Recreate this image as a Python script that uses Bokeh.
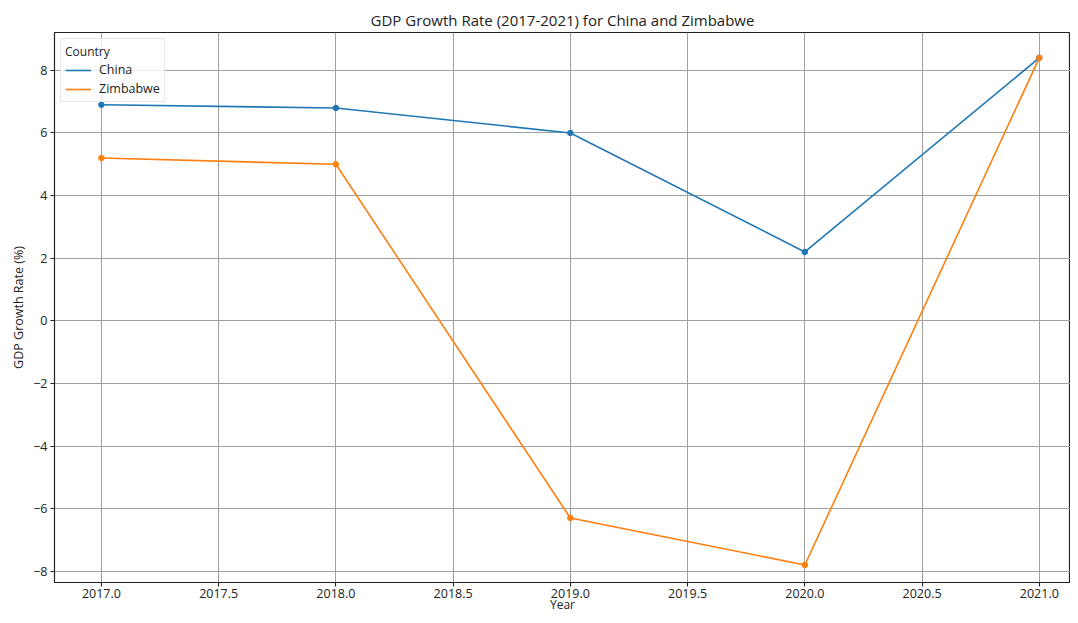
from bokeh.plotting import figure
from bokeh.models import ColumnDataSource, Range1d, FixedTicker, Legend, LegendItem
from bokeh.embed import file_html
from bokeh.resources import INLINE

years = [2017, 2018, 2019, 2020, 2021]
china = [6.9, 6.8, 6.0, 2.2, 8.4]
zimbabwe = [5.2, 5.0, -6.3, -7.8, 8.4]
x_ticks = [2017.0, 2017.5, 2018.0, 2018.5, 2019.0, 2019.5, 2020.0, 2020.5, 2021.0]
y_ticks = [-8, -6, -4, -2, 0, 2, 4, 6, 8]

FONT = "Open Sans"
TXT = "#222222"

p = figure(width=1070, height=615, output_backend="svg", toolbar_location=None,
           title="GDP Growth Rate (2017-2021) for China and Zimbabwe",
           x_range=Range1d(2016.8, 2021.133), y_range=Range1d(-8.36, 9.21),
           min_border_left=54, min_border_right=0, min_border_top=32, min_border_bottom=30)

p.title.align = "center"
p.title.text_font = FONT
p.title.text_font_size = "15px"
p.title.text_font_style = "normal"
p.title.text_color = TXT
p.title.standoff = 6

p.outline_line_color = "#222222"
p.outline_line_width = 1.2

for ax in (p.xaxis[0], p.yaxis[0]):
    ax.major_label_text_font = FONT
    ax.major_label_text_font_size = "12.5px"
    ax.major_label_text_color = TXT
    ax.axis_label_text_font = FONT
    ax.axis_label_text_font_size = "12.5px"
    ax.axis_label_text_font_style = "normal"
    ax.axis_label_text_color = TXT
    ax.axis_line_color = "#222222"
    ax.major_tick_line_color = "#222222"
    ax.major_tick_out = 4
    ax.major_tick_in = 0
    ax.minor_tick_line_color = None
    ax.major_label_standoff = 3
    ax.axis_label_standoff = 3

p.xaxis[0].ticker = FixedTicker(ticks=x_ticks)
p.xaxis[0].major_label_overrides = {t: f"{t:.1f}" for t in x_ticks}
p.xaxis[0].axis_label = "Year"
p.xaxis[0].axis_label_text_font_size = "12px"
p.xaxis[0].axis_label_standoff = -5
p.xaxis[0].major_label_standoff = 2
p.yaxis[0].ticker = FixedTicker(ticks=y_ticks)
p.yaxis[0].axis_label = "GDP Growth Rate (%)"

p.xgrid.grid_line_color = "#a0a0a0"
p.ygrid.grid_line_color = "#a0a0a0"
p.xgrid.grid_line_width = 1
p.ygrid.grid_line_width = 1

src = ColumnDataSource(dict(year=years, china=china, zimbabwe=zimbabwe))

c_line = p.line("year", "china", source=src, line_color="#1f77b4", line_width=1.6)
c_pts = p.scatter("year", "china", source=src, size=5.5, fill_color="#1f77b4", line_color="#1f77b4")
z_line = p.line("year", "zimbabwe", source=src, line_color="#ff7f0e", line_width=1.6)
z_pts = p.scatter("year", "zimbabwe", source=src, size=5.5, fill_color="#ff7f0e", line_color="#ff7f0e")

legend = Legend(items=[LegendItem(label="China", renderers=[c_line]),
                       LegendItem(label="Zimbabwe", renderers=[z_line])],
                location="top_left", title="Country")
legend.title_text_font = FONT
legend.title_text_font_size = "12px"
legend.title_text_font_style = "normal"
legend.title_text_color = TXT
legend.label_text_font = FONT
legend.label_text_font_size = "12.5px"
legend.label_text_color = TXT
legend.border_line_color = "#d0d0d0"
legend.background_fill_alpha = 0.8
legend.glyph_width = 26
legend.glyph_height = 14
legend.label_standoff = 8
legend.label_height = 14
legend.spacing = 2
legend.padding = 4
legend.margin = 6
legend.title_standoff = 1
p.add_layout(legend)

open("out.html", "w").write(file_html(p, INLINE))
